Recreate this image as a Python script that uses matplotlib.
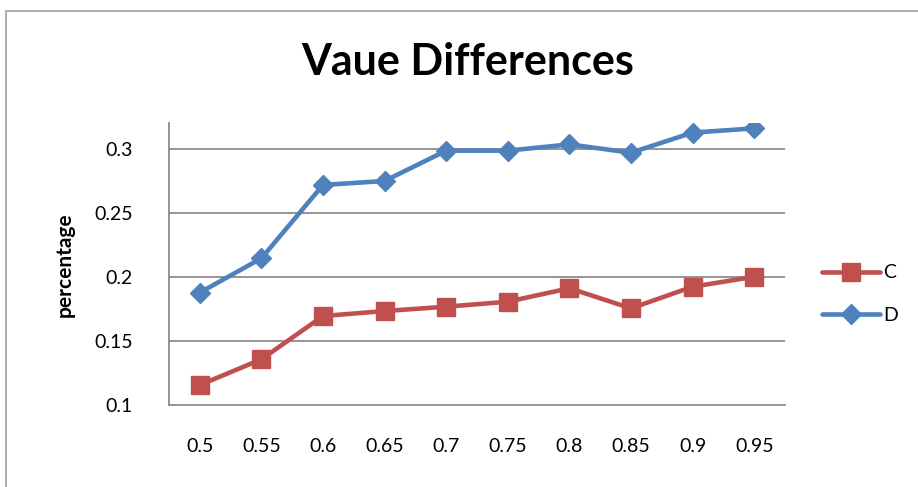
import matplotlib
matplotlib.use('agg')
import matplotlib.pyplot as plt
from matplotlib.patches import Rectangle

# data
categories = ['0.5', '0.55', '0.6', '0.65', '0.7', '0.75', '0.8', '0.85', '0.9', '0.95']
c_values = [0.1156, 0.1357, 0.1695, 0.1734, 0.1768, 0.1807, 0.1912, 0.1755, 0.1924, 0.2002]
d_values = [0.1878, 0.2146, 0.2719, 0.2750, 0.2987, 0.2987, 0.3036, 0.2971, 0.3128, 0.3161]
y_ticks = [0.1, 0.15, 0.2, 0.25, 0.3]
y_tick_labels = ['0.1', '0.15', '0.2', '0.25', '0.3']

plt.rcParams['font.family'] = ['Lato', 'DejaVu Sans']

fig = plt.figure(figsize=(9.18, 4.87), dpi=100)
fig.patch.set_facecolor('white')

# chart area border (cut off on the right and bottom like the screenshot)
fig.patches.append(Rectangle((6 / 918, -0.1), 1.1, 1 - 11 / 487 + 0.1,
                             transform=fig.transFigure, fill=False,
                             edgecolor='#a0a0a0', linewidth=1.2))

ax = fig.add_axes([169 / 918, 1 - 405 / 487, (785 - 169) / 918, (405 - 123) / 487])

x = list(range(len(categories)))
ax.plot(x, c_values, color='#C0504D', linewidth=3.3, marker='s', markersize=13,
        label='C', solid_capstyle='round')
ax.plot(x, d_values, color='#4F81BD', linewidth=3.3, marker='D', markersize=10,
        label='D', solid_capstyle='round')

ax.set_xlim(-0.5, len(categories) - 0.5)
ax.set_ylim(0.1, 0.3203)
ax.set_xticks(x)
ax.set_xticklabels(categories, fontsize=14)
ax.set_yticks(y_ticks)
ax.set_yticklabels(y_tick_labels, fontsize=14)
ax.tick_params(axis='both', length=0)
ax.tick_params(axis='x', pad=24)
ax.tick_params(axis='y', pad=26)

for t in y_ticks[1:]:
    ax.axhline(t, color='#8c8c8c', linewidth=1.3, zorder=0)

for side in ['top', 'right']:
    ax.spines[side].set_visible(False)
for side in ['left', 'bottom']:
    ax.spines[side].set_color('#8c8c8c')
    ax.spines[side].set_linewidth(1.3)

fig.text(65 / 918, 1 - 265 / 487, 'percentage', rotation=90, fontsize=15,
         fontweight='bold', ha='center', va='center')
fig.text(468 / 918, 1 - 62 / 487, 'Vaue Differences', fontsize=31,
         fontweight='bold', ha='center', va='center')

ax.legend(loc='center left', bbox_to_anchor=(822 / 918, 1 - 294 / 487),
          bbox_transform=fig.transFigure, frameon=False, fontsize=14,
          handlelength=3.0, handletextpad=0.15, labelspacing=1.3, borderaxespad=0,
          borderpad=0)

plt.savefig('out.png', dpi=100, facecolor='white')
plt.close()
